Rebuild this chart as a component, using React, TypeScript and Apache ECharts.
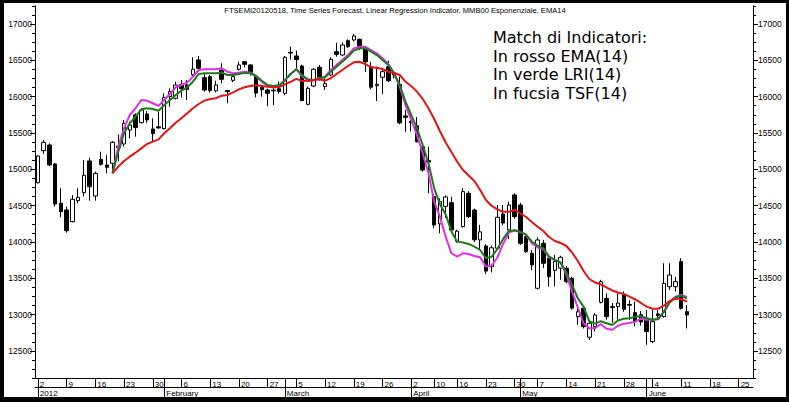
import React, { useEffect, useRef } from "react";
import * as echarts from "echarts";

// Trading days (day of month) per month, 2012
const JAN = [2, 3, 4, 5, 6, 9, 10, 11, 12, 13, 16, 17, 18, 19, 20, 23, 24, 25, 26, 27, 30, 31];
const FEB = [1, 2, 3, 6, 7, 8, 9, 10, 13, 14, 15, 16, 17, 20, 21, 22, 23, 24, 27, 28, 29];
const MAR = [1, 2, 5, 6, 7, 8, 9, 12, 13, 14, 15, 16, 19, 20, 21, 22, 23, 26, 27, 28, 29, 30];
const APR = [2, 3, 4, 5, 10, 11, 12, 13, 16, 17, 18, 19, 20, 23, 24, 25, 26, 27, 30];
const MAY = [2, 3, 4, 7, 8, 9, 10, 11, 14, 15, 16, 17, 18, 21, 22, 23, 24, 25, 28, 29, 30, 31];
const JUN = [1, 4, 5, 6, 7, 8, 11, 12, 13, 14, 15, 18, 19, 20, 21, 22, 25, 26, 27];
const MONTH_LABELS = ["2012", "February", "March", "April", "May", "June"];

const OPEN = [14816, 15257, 15335, 15074, 14533, 14441, 14280, 14569, 14679, 15115,
  14633, 15137, 15060, 15083, 15300, 15349, 15541, 15748, 15642, 15762,
  15555, 15585, 15560, 16000, 15978, 16170, 16161, 16300, 16505, 16261,
  16275, 16080, 16367, 16085, 16225, 16377, 16481, 16436, 16275, 16130,
  16092, 16080, 16110, 16046, 16610, 16560, 16422, 15895, 16147, 16404,
  16140, 16298, 16619, 16573, 16770, 16780, 16789, 16665, 16410, 16150,
  16267, 16413, 16300, 16170, 15735, 15660, 15600, 15312, 15120, 14624,
  14250, 14490, 14541, 14010, 14211, 14670, 14440, 14030, 13945, 13660,
  13914, 14385, 14166, 14647, 14509, 14073, 13845, 13363, 13982, 13776,
  13610, 13640, 13638, 13500, 12973, 13088, 12689, 12835, 13170, 13225,
  13110, 13110, 13271, 13140, 13028, 13000, 12950, 12629, 13010, 12973,
  13385, 13385, 13730, 13041];
const CLOSE = [15183, 15372, 15060, 14523, 14417, 14156, 14588, 14615, 14918, 14761,
  14945, 15069, 15028, 15372, 15320, 15634, 15610, 15574, 15817, 15680,
  15490, 15570, 15990, 16069, 16161, 16110, 16101, 16377, 16390, 16092,
  16085, 16160, 16239, 16070, 16275, 16436, 16445, 16330, 16050, 16095,
  16046, 16090, 16070, 16542, 16600, 16510, 15945, 16115, 16377, 16267,
  16180, 16514, 16583, 16711, 16688, 16835, 16665, 16481, 16130, 16170,
  16344, 16220, 16330, 15640, 15715, 15640, 15380, 14991, 15100, 14234,
  14555, 14620, 14165, 14150, 14693, 14349, 14030, 14140, 13600, 13920,
  14340, 14261, 14509, 14349, 13982, 13867, 13684, 14028, 13707, 13523,
  13730, 13790, 13454, 13090, 13041, 12835, 12882, 12996, 13454, 12973,
  13100, 13160, 13074, 13130, 12904, 12900, 12766, 12904, 12990, 13431,
  13546, 13454, 13088, 12996];
const LOW = [14805, 15211, 15046, 14486, 14340, 14128, 14270, 14533, 14624, 14569,
  14569, 15050, 14945, 14990, 15110, 15312, 15427, 15449, 15634, 15640,
  15381, 15560, 15550, 15862, 15960, 15990, 15954, 16275, 16344, 16069,
  16055, 16060, 16184, 15910, 16200, 16360, 16400, 16290, 15990, 16000,
  15870, 15885, 16040, 16020, 16510, 16390, 15940, 15880, 16130, 16220,
  16092, 16280, 16550, 16560, 16670, 16760, 16640, 16340, 16100, 15940,
  16037, 16200, 16250, 15620, 15518, 15520, 15370, 14968, 14670, 14190,
  14120, 14330, 14130, 13990, 14200, 14330, 14000, 13900, 13560, 13580,
  13900, 14230, 14040, 14320, 13960, 13850, 13615, 13345, 13640, 13385,
  13390, 13480, 13430, 13070, 12860, 12810, 12652, 12770, 13155, 12930,
  12890, 12930, 13040, 12930, 12840, 12850, 12585, 12610, 12930, 12960,
  13340, 13320, 13070, 12810];
const HIGH = [15195, 15404, 15358, 15090, 14739, 14486, 14647, 14739, 15129, 15160,
  14968, 15243, 15198, 15390, 15480, 15679, 15656, 15771, 15840, 15800,
  15702, 15790, 16046, 16115, 16206, 16230, 16229, 16542, 16560, 16322,
  16298, 16220, 16459, 16090, 16300, 16481, 16490, 16450, 16290, 16160,
  16110, 16160, 16210, 16560, 16690, 16633, 16440, 16138, 16395, 16436,
  16253, 16542, 16743, 16743, 16790, 16862, 16800, 16680, 16480, 16413,
  16390, 16495, 16360, 16275, 15817, 15770, 15720, 15358, 15310, 14660,
  14600, 14640, 14620, 14170, 14740, 14700, 14460, 14235, 13970, 13950,
  14510, 14510, 14555, 14670, 14540, 14100, 13890, 14065, 14030, 13820,
  13820, 13810, 13670, 13520, 13090, 13110, 12904, 13020, 13480, 13295,
  13160, 13295, 13320, 13200, 13180, 13050, 13065, 13065, 13065, 13707,
  13707, 13520, 13776, 13130];

// Indicators start at the 14th session (index 13)
const IND_START = 13;
const EMA14 = [14945, 15037, 15115, 15174, 15229, 15289, 15349, 15381, 15413, 15496,
  15565, 15642, 15702, 15771, 15840, 15899, 15945, 15968, 15978, 16014,
  16023, 16060, 16101, 16129, 16147, 16156, 16147, 16138, 16129, 16133,
  16170, 16205, 16245, 16215, 16220, 16229, 16239, 16220, 16253, 16312,
  16367, 16422, 16473, 16481, 16450, 16404, 16399, 16381, 16344, 16326,
  16298, 16206, 16147, 16069, 15968, 15840, 15693, 15524, 15370, 15239,
  15105, 14991, 14915, 14840, 14716, 14578, 14496, 14448, 14417, 14417,
  14441, 14395, 14344, 14276, 14211, 14152, 14069, 14014, 13987, 13945,
  13856, 13739, 13601, 13491, 13443, 13416, 13374, 13333, 13305, 13285,
  13248, 13209, 13161, 13110, 13081, 13081, 13127, 13188, 13220, 13216,
  13179];
const LRI14 = [14945, 15243, 15496, 15634, 15724, 15826, 15840, 15830, 15807, 15885,
  15954, 16023, 16083, 16129, 16206, 16312, 16322, 16322, 16322, 16330,
  16298, 16298, 16312, 16330, 16322, 16284, 16220, 16161, 16147, 16161,
  16220, 16312, 16377, 16298, 16239, 16229, 16253, 16267, 16344, 16413,
  16481, 16550, 16633, 16665, 16665, 16619, 16573, 16505, 16436, 16322,
  16161, 15931, 15748, 15565, 15335, 15083, 14739, 14520, 14380, 14145,
  14005, 13993, 13973, 13936, 13890, 13776, 13798, 13904, 14042, 14152,
  14161, 14138, 14101, 14005, 13948, 13914, 13798, 13753, 13718, 13581,
  13409, 13226, 13110, 12909, 12876, 12910, 12882, 12858, 12920, 12944,
  12950, 12973, 12978, 12950, 12931, 12938, 13041, 13168, 13237, 13264,
  13219];
const TSF14 = [14945, 15312, 15565, 15748, 15840, 15954, 15945, 15909, 15872, 15954,
  16037, 16129, 16161, 16193, 16275, 16367, 16377, 16377, 16377, 16390,
  16344, 16322, 16330, 16344, 16330, 16284, 16206, 16147, 16129, 16147,
  16229, 16312, 16377, 16284, 16220, 16220, 16253, 16275, 16367, 16436,
  16505, 16573, 16665, 16688, 16688, 16642, 16597, 16528, 16450, 16330,
  16138, 15885, 15679, 15473, 15221, 14945, 14555, 14349, 14073, 13845,
  13798, 13845, 13835, 13808, 13790, 13661, 13677, 13787, 13973, 14131,
  14161, 14135, 14097, 13982, 13925, 13901, 13787, 13753, 13718, 13557,
  13317, 13099, 12882, 12813, 12813, 12872, 12806, 12793, 12847, 12876,
  12886, 12904, 12945, 12931, 12931, 12944, 13041, 13179, 13248, 13271,
  13243];

const TITLE = "FTSEMI20120518, Time Series Forecast, Linear Regression Indicator, MMB00 Esponenziale, EMA14";
const NOTE_LINES = ["Match di Indicatori:", "In rosso EMA(14)", "In verde LRI(14)", "In fucsia TSF(14)"];

export default function App() {
  const ref = useRef<HTMLDivElement>(null);
  useEffect(() => {
    document.body.style.margin = "0";
    if (!ref.current) return;
    const chart = echarts.init(ref.current, undefined, { renderer: "svg" });

    const months = [JAN, FEB, MAR, APR, MAY, JUN];
    const cats: string[] = [];
    const dates: Date[] = [];
    months.forEach((days, m) => {
      days.forEach((d) => {
        cats.push(`2012-${String(m + 1).padStart(2, "0")}-${String(d).padStart(2, "0")}`);
        dates.push(new Date(2012, m, d));
      });
    });
    const base = dates[0].getTime();
    const weekStart: boolean[] = [];
    const monthStart: boolean[] = [];
    dates.forEach((dt, i) => {
      const wk = Math.floor((dt.getTime() - base) / (7 * 86400000) + 0.01);
      const pwk = i > 0 ? Math.floor((dates[i - 1].getTime() - base) / (7 * 86400000) + 0.01) : -1;
      weekStart.push(wk !== pwk);
      monthStart.push(i === 0 || dt.getMonth() !== dates[i - 1].getMonth());
    });

    const candles = OPEN.map((o, i) => [o, CLOSE[i], LOW[i], HIGH[i]]);
    const pad = (arr: number[]) => [...new Array(IND_START).fill(null), ...arr];

    const font = "Liberation Sans, Arial, sans-serif";
    const yBase = {
      type: "value",
      splitLine: { show: false },
      axisLine: { show: true, lineStyle: { color: "#000", width: 1 } },
    };
    const plain = (v: number) => String(v);

    const option: any = {
      animation: false,
      backgroundColor: "#fff",
      grid: [
        { left: 35, right: 36, top: 5.83, bottom: 23.75 },
        { left: 35, right: 36, top: 24, bottom: 51 },
      ],
      xAxis: [
        {
          type: "category", gridIndex: 0, data: cats, boundaryGap: true, position: "bottom",
          axisLine: { show: true, lineStyle: { color: "#000", width: 1 } },
          axisTick: {
            show: true, alignWithLabel: true, length: 9, lineStyle: { color: "#000" },
            interval: (i: number) => weekStart[i] || monthStart[i],
          },
          axisLabel: {
            show: true, interval: (i: number) => weekStart[i],
            formatter: (_v: string, i: number) => String(dates[i].getDate()),
            align: "left", verticalAlign: "top", padding: [0, 0, 0, 2], margin: 2,
            fontSize: 8, color: "#000", fontFamily: font,
          },
          splitLine: { show: false },
        },
        {
          type: "category", gridIndex: 0, data: cats, boundaryGap: true, position: "bottom", offset: 9,
          axisLine: { show: true, lineStyle: { color: "#000", width: 1 } },
          axisTick: {
            show: true, alignWithLabel: true, length: 10, lineStyle: { color: "#000" },
            interval: (i: number) => monthStart[i],
          },
          axisLabel: {
            show: true, interval: (i: number) => monthStart[i],
            formatter: (_v: string, i: number) => MONTH_LABELS[dates[i].getMonth()],
            align: "left", verticalAlign: "top", padding: [0, 0, 0, 2], margin: 2,
            fontSize: 8, color: "#000", fontFamily: font,
          },
          splitLine: { show: false },
        },
        { type: "category", gridIndex: 1, data: cats, show: false },
      ],
      yAxis: [
        { ...yBase, gridIndex: 0, position: "left", min: 12125, max: 17250, interval: 125,
          axisTick: { show: true, length: 3, lineStyle: { color: "#000" } }, axisLabel: { show: false } },
        { ...yBase, gridIndex: 0, position: "right", min: 12125, max: 17250, interval: 125,
          axisTick: { show: true, length: 3, lineStyle: { color: "#000" } }, axisLabel: { show: false } },
        { ...yBase, gridIndex: 1, position: "left", min: 12500, max: 17000, interval: 500,
          axisTick: { show: true, length: 5, lineStyle: { color: "#000" } },
          axisLabel: { show: true, margin: 3, fontSize: 8.5, color: "#000", fontFamily: font, formatter: plain } },
        { ...yBase, gridIndex: 1, position: "right", min: 12500, max: 17000, interval: 500,
          axisTick: { show: true, length: 5, lineStyle: { color: "#000" } },
          axisLabel: { show: true, margin: 5, fontSize: 8.5, color: "#000", fontFamily: font, formatter: plain } },
      ],
      series: [
        {
          type: "candlestick", xAxisIndex: 0, yAxisIndex: 0, data: candles, barWidth: 4,
          itemStyle: { color: "#fff", color0: "#000", borderColor: "#000", borderColor0: "#000", borderWidth: 1 },
        },
        {
          type: "line", name: "TSF(14)", xAxisIndex: 0, yAxisIndex: 0, data: pad(TSF14),
          symbol: "none", lineStyle: { color: "#e22ee2", width: 2 }, z: 3,
        },
        {
          type: "line", name: "LRI(14)", xAxisIndex: 0, yAxisIndex: 0, data: pad(LRI14),
          symbol: "none", lineStyle: { color: "#1f7a1f", width: 2 }, z: 4,
        },
        {
          type: "line", name: "EMA(14)", xAxisIndex: 0, yAxisIndex: 0, data: pad(EMA14),
          symbol: "none", lineStyle: { color: "#e01515", width: 2 }, z: 5,
        },
      ],
      graphic: [
        { type: "rect", shape: { x: 0, y: 0, width: 789, height: 3 }, style: { fill: "#000" }, z: 100 },
        { type: "rect", shape: { x: 0, y: 0, width: 4, height: 402 }, style: { fill: "#000" }, z: 100 },
        { type: "rect", shape: { x: 786, y: 0, width: 3, height: 402 }, style: { fill: "#000" }, z: 100 },
        { type: "rect", shape: { x: 0, y: 397, width: 789, height: 5 }, style: { fill: "#000" }, z: 100 },
        {
          type: "text", x: 395, y: 10.5, z: 50,
          style: { text: TITLE, fill: "#000", font: `7.6px ${font}`, textAlign: "center", textVerticalAlign: "middle" },
        },
        ...NOTE_LINES.map((t, k) => ({
          type: "text", x: 493, y: 37.5 + k * 18.6, z: 50,
          style: { text: t, fill: "#000", font: "16px DejaVu Sans, sans-serif", textAlign: "left", textVerticalAlign: "middle" },
        })),
      ],
    };
    chart.setOption(option);
    return () => chart.dispose();
  }, []);
  return <div ref={ref} style={{ width: 789, height: 402 }} />;
}
